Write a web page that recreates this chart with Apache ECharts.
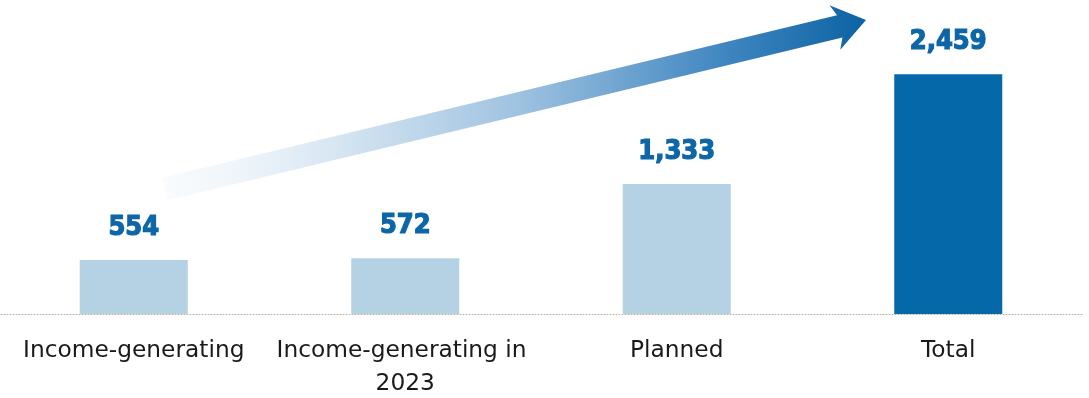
<!DOCTYPE html>
<html>
<head>
<meta charset="utf-8">
<script src="https://cdn.jsdelivr.net/npm/echarts@6/dist/echarts.min.js"></script>
<style>
  html, body { margin: 0; padding: 0; background: #fff; }
  #chart { width: 1089px; height: 398px; }
</style>
</head>
<body>
<div id="chart"></div>
<script>
// chart data
var categories = ['Income-generating', 'Income-generating in 2023', 'Planned', 'Total'];
var values = [554, 572, 1333, 2459];
var barColors = ['#b5d2e4', '#b5d2e4', '#b5d2e4', '#0568a8'];

var chart = echarts.init(document.getElementById('chart'));

// decorative growth arrow (pixel space)
var tail = [165, 189], tip = [866, 20];
var dx = tip[0] - tail[0], dy = tip[1] - tail[1];
var len = Math.sqrt(dx * dx + dy * dy);
var ux = dx / len, uy = dy / len;
var nx = -uy, ny = ux;
var halfW = 11.5, headLen = 27, headHalf = 23;
var bx = tip[0] - ux * headLen, by = tip[1] - uy * headLen;
var arrowPts = [
    [tail[0] + nx * halfW, tail[1] + ny * halfW],
    [bx + nx * halfW, by + ny * halfW],
    [bx + nx * headHalf - ux * 5, by + ny * headHalf - uy * 5],
    tip,
    [bx - nx * headHalf - ux * 5, by - ny * headHalf - uy * 5],
    [bx - nx * halfW, by - ny * halfW],
    [tail[0] - nx * halfW, tail[1] - ny * halfW]
];

chart.setOption({
    animation: false,
    grid: {left: -2, right: 5, top: 2, bottom: 84, outerBoundsMode: 'none', containLabel: false},
    xAxis: {
        type: 'category',
        data: categories,
        axisLine: {lineStyle: {color: '#bfaea2', type: [1, 2], width: 1}},
        axisTick: {show: false},
        axisLabel: {
            color: '#1a1a1a',
            fontFamily: 'DejaVu Sans',
            fontSize: 23.3,
            lineHeight: 33,
            margin: 20,
            width: 266,
            overflow: 'break',
            interval: 0
        }
    },
    yAxis: {
        type: 'value',
        min: 0,
        max: 3200,
        show: false,
        splitLine: {show: false}
    },
    graphic: [{
        type: 'polygon',
        z: 1,
        shape: {points: arrowPts},
        style: {
            fill: new echarts.graphic.LinearGradient(tail[0], 0, tip[0], 0, [
                {offset: 0, color: 'rgba(240,246,251,0.4)'},
                {offset: 0.25, color: '#d5e5f2'},
                {offset: 0.5, color: '#a0c3e1'},
                {offset: 0.8, color: '#3f86c0'},
                {offset: 1, color: '#0c62a3'}
            ], true)
        }
    }],
    series: [{
        type: 'bar',
        barWidth: 108,
        data: values.map(function (v, i) {
            return {value: v, itemStyle: {color: barColors[i]}};
        }),
        label: {
            show: true,
            position: 'top',
            distance: 19,
            color: '#0d66a8',
            fontFamily: 'DejaVu Sans Condensed',
            fontWeight: 'bold',
            fontSize: 27,
            textBorderColor: '#0d66a8',
            textBorderWidth: 1.2,
            formatter: function (p) {
                return p.value.toLocaleString('en-US');
            }
        }
    }]
});
</script>
</body>
</html>
